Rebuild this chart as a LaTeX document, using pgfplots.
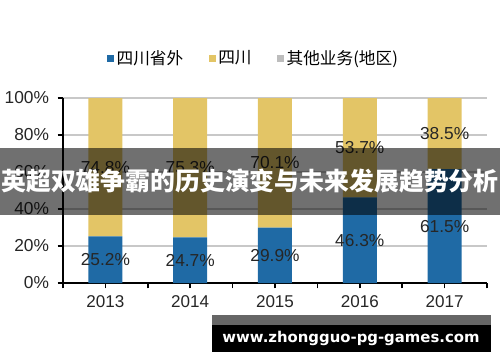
\documentclass[border=0pt]{standalone}
\usepackage{fontspec}
\setmainfont{Liberation Sans}
\newfontfamily\cjk{Noto Sans CJK SC}
\newfontfamily\wm{DejaVu Sans}
\usepackage{graphicx}
\usepackage{pgfplots}
\pgfplotsset{compat=1.18}
\definecolor{blueC}{HTML}{1F6AA5}
\definecolor{yellowC}{HTML}{E3C566}
\definecolor{grayC}{HTML}{BDBDBD}
\definecolor{gridC}{HTML}{C8C8C8}
\tikzset{vlab/.style={font=\fontsize{13}{14}\selectfont, text=black!85}}
\begin{document}
\begin{tikzpicture}
\path[use as bounding box] (0,0) rectangle (375pt,271.5pt);
\begin{axis}[
  at={(47.25pt,59.25pt)}, anchor=south west,
  scale only axis, width=318pt, height=138.75pt,
  ybar stacked, bar width=25.5pt,
  xmin=-0.5, xmax=4.5, ymin=0, ymax=100,
  axis x line*=bottom, axis y line*=left,
  axis line style={black, line width=1.1pt, -},
  xtick={0,1,2,3,4},
  xticklabels={2013,2014,2015,2016,2017},
  extra x ticks={-0.5,0.5,1.5,2.5,3.5,4.5},
  extra x tick labels={},
  extra x tick style={major tick length=4pt, tick style={black, line width=1.1pt}},
  ytick={0,20,40,60,80,100},
  yticklabel={\pgfmathprintnumber{\tick}\%},
  tick style={black, line width=1.1pt},
  major tick length=4pt,
  tick align=outside,
  ymajorgrids, grid style={gridC, line width=0.8pt},
  ticklabel style={text=black!85},
  /pgf/number format/assume math mode=true,
  xticklabel style={yshift=-2pt, font=\fontsize{12.8}{14}\selectfont},
  yticklabel style={xshift=-3pt, font=\fontsize{13}{14}\selectfont},
  legend style={at={(0.45,1.216)}, anchor=center, draw=none, fill=none,
    legend columns=3, font=\cjk\fontsize{12.5}{13}\selectfont,
    /tikz/every even column/.append style={column sep=17pt}},
  legend image code/.code={\fill[#1] (0pt,-2.6pt) rectangle (5.25pt,2.6pt);},
]
\addplot[fill=blueC, draw=none] coordinates {(0,25.2) (1,24.7) (2,29.9) (3,46.3) (4,61.5)};
\addplot[fill=yellowC, draw=none] coordinates {(0,74.8) (1,75.3) (2,70.1) (3,53.7) (4,38.5)};
\addlegendimage{fill=grayC, draw=none}
\legend{四川省外,四川,其他业务(地区)}
\coordinate (b0) at (axis cs:0,12.6);
\coordinate (b1) at (axis cs:1,12.35);
\coordinate (b2) at (axis cs:2,14.95);
\coordinate (b3) at (axis cs:3,23.15);
\coordinate (b4) at (axis cs:4,30.75);
\coordinate (y0) at (axis cs:0,62.6);
\coordinate (y1) at (axis cs:1,62.35);
\coordinate (y2) at (axis cs:2,64.95);
\coordinate (y3) at (axis cs:3,73.15);
\coordinate (y4) at (axis cs:4,80.75);
\end{axis}
\node[vlab] at (b0) {25.2\%};
\node[vlab] at (b1) {24.7\%};
\node[vlab] at (b2) {29.9\%};
\node[vlab] at (b3) {46.3\%};
\node[vlab] at (b4) {61.5\%};
\node[vlab] at (y0) {74.8\%};
\node[vlab] at (y1) {75.3\%};
\node[vlab] at (y2) {70.1\%};
\node[vlab] at (y3) {53.7\%};
\node[vlab] at (y4) {38.5\%};
% banner overlay
\fill[black, fill opacity=0.56] (0,110.25pt) rectangle (375pt,160.5pt);
\node[text=white, inner sep=0pt] at (187.5pt,135.75pt) {\resizebox{373pt}{!}{\cjk\bfseries 英超双雄争霸的历史演变与未来发展趋势分析}};
% watermark
\fill[black!60] (159pt,27.75pt) rectangle (368.25pt,35.25pt);
\fill[black] (159pt,7.5pt) rectangle (368.25pt,27.75pt);
\node[text=white, inner sep=0pt] at (263.25pt,17.5pt) {\resizebox{192.75pt}{!}{\wm\bfseries www.zhongguo-pg-games.com}};
\end{tikzpicture}
\end{document}
